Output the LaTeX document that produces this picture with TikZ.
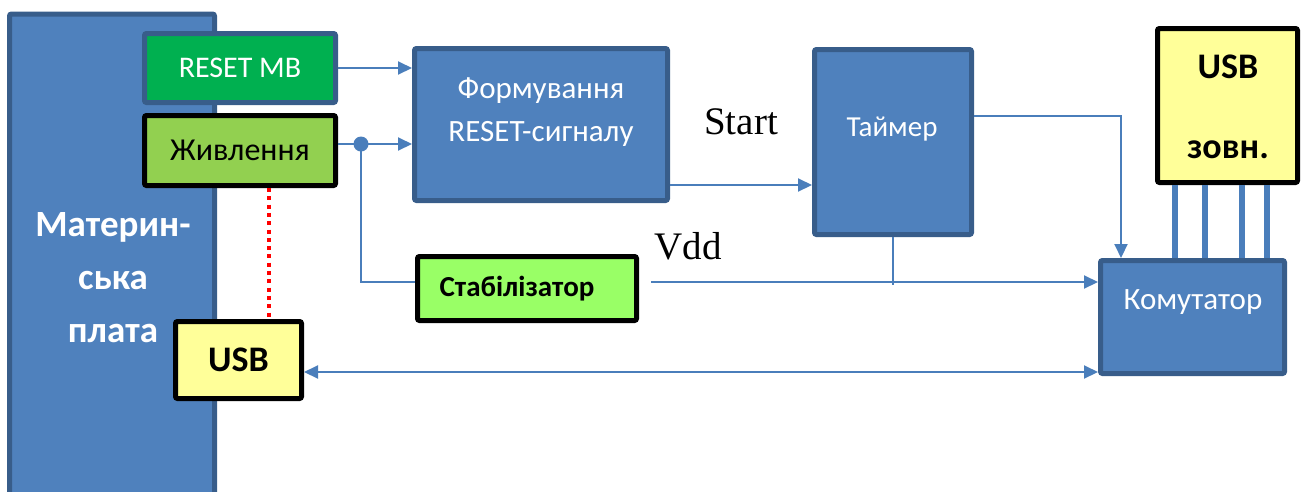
\documentclass[tikz,border=0pt]{standalone}
\usepackage{fontspec}
\newfontfamily\calfont{Carlito}
\newfontfamily\sigfont{Liberation Serif}
\usetikzlibrary{arrows.meta,calc}

\definecolor{boxblue}{HTML}{4F81BD}
\definecolor{edgeblue}{HTML}{385D8A}
\definecolor{resetgreen}{HTML}{00B050}
\definecolor{powergreen}{HTML}{92D050}
\definecolor{stabgreen}{HTML}{99FF66}
\definecolor{usbyellow}{HTML}{FFFF99}
\definecolor{wireblue}{HTML}{4A7EBB}

\begin{document}
\begin{tikzpicture}[x=1pt,y=-1pt,
  bluebox/.style={draw=edgeblue,fill=boxblue,line width=5pt,rounded corners=2pt,
                  inner sep=0pt,text=white,font=\calfont\fontsize{30}{36}\selectfont},
  blackbox/.style={draw=black,line width=5pt,rounded corners=2pt,inner sep=0pt,
                  font=\calfont\fontsize{32}{38}\selectfont},
  boxtext/.style={inner sep=0pt,align=center},
  wire/.style={draw=wireblue,line width=2pt},
  arr/.style={wire,-{Triangle[length=14pt,width=13pt]}},
  biarr/.style={wire,{Triangle[length=14pt,width=13pt]}-{Triangle[length=14pt,width=13pt]}},
  buswire/.style={draw=wireblue,line width=5.5pt},
  signal/.style={font=\sigfont\fontsize{39}{42}\selectfont,inner sep=0pt}
]
\useasboundingbox (0,0) rectangle (1309,491);
\clip (0,0) rectangle (1309,491);

% motherboard, running off the bottom edge
\node[bluebox,minimum width=205pt,minimum height=510pt] (mb) at (112,269) {};
\node[boxtext,text=white,font=\calfont\bfseries\fontsize{37}{53}\selectfont] (mbtxt) at (113,278)
  {Материн-\\ська\\плата};

% connector blocks on the board
\node[bluebox,fill=resetgreen,minimum width=191pt,minimum height=69pt] (reset) at (240,68) {RESET MB};
\node[blackbox,fill=powergreen,minimum width=191pt,minimum height=70pt] (pw) at (240,150.5) {Живлення};
\node[blackbox,fill=usbyellow,minimum width=126pt,minimum height=77pt,
      font=\calfont\bfseries\fontsize{36}{40}\selectfont] (usb) at (238.5,360) {USB};

% processing blocks
\node[bluebox,minimum width=253pt,minimum height=152pt] (form) at (541,124.5) {};
\node[boxtext,text=white,font=\calfont\fontsize{31}{43}\selectfont] (formtxt) at (541,112)
  {Формування\\RESET-сигналу};
\node[bluebox,minimum width=157pt,minimum height=185pt] (timer) at (893,142) {};
\node[boxtext,text=white,font=\calfont\fontsize{29}{36}\selectfont] (timertxt) at (892,129) {Таймер};
\node[bluebox,minimum width=184pt,minimum height=113pt] (comm) at (1192.5,317) {};
\node[boxtext,text=white,font=\calfont\fontsize{31}{36}\selectfont] (commtxt) at (1193,302) {Комутатор};
\node[blackbox,fill=stabgreen,minimum width=219pt,minimum height=64pt] (stab) at (527,288.5) {};
\node[boxtext,font=\calfont\bfseries\fontsize{29}{32}\selectfont] (stabtxt) at (517,289) {Стабілізатор};
\node[blackbox,fill=usbyellow,minimum width=140pt,minimum height=154pt] (ext) at (1227.5,105.5) {};
\node[boxtext,font=\calfont\bfseries\fontsize{36}{80}\selectfont] (exttxt) at (1228,107) {USB\\зовн.};

% line levels
\coordinate (j) at (361,144);
\coordinate (vdd) at (0,282);
\coordinate (startl) at (0,185);
\coordinate (tcorner) at (1121,116);
\coordinate (busl) at (0,372);

% wiring
\draw[arr] (reset.east) -- (form.west |- reset.east);
\draw[arr] (pw.east |- j) -- (form.west |- j);
\draw[wire] (j) |- (stab.west |- vdd);
\fill[wireblue] (j) circle (7.5pt);
\draw[arr,shorten <=12pt] (stab.east |- vdd) -- (comm.west |- vdd);
\draw[wire] (timer.south) -- ($(timer.south |- vdd)+(0,3)$);
\draw[arr] (form.east |- startl) -- (timer.west |- startl);
\draw[arr] (timer.east |- tcorner) -- (tcorner) -- (tcorner |- comm.north);
\draw[biarr] (usb.east |- busl) -- (comm.west |- busl);
\foreach \x in {1175,1205,1242,1267}
  \draw[buswire] (ext.south -| \x,0) -- (comm.north -| \x,0);
\draw[red,line width=4.5pt,dash pattern=on 4pt off 4.3pt] (pw.south -| 269,0) -- (usb.north -| 269,0);

% signal names
\node[signal] (startlbl) at (741,122) {Start};
\node[signal] (vddlbl) at (688,246) {Vdd};
\end{tikzpicture}
\end{document}
